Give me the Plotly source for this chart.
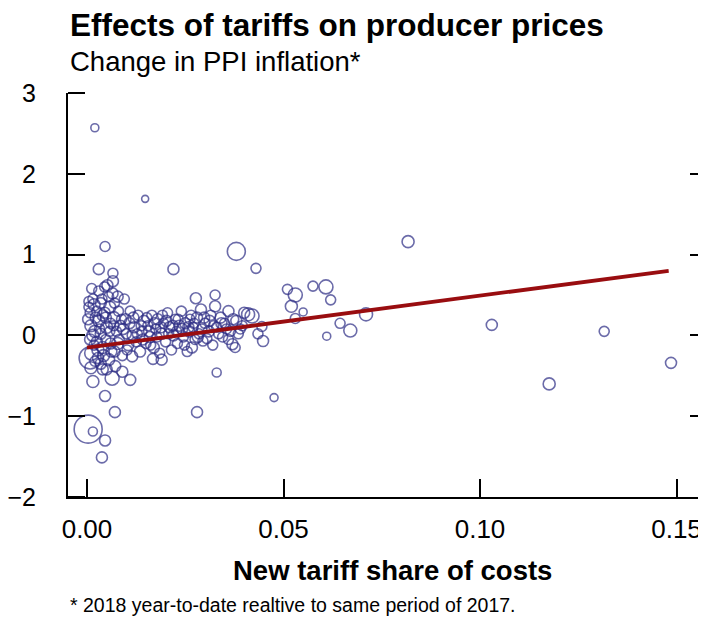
"""Effects of tariffs on producer prices (Plotly scatter + fitted line)"""
import plotly.graph_objects as go

# sparse / outlying industries
out_x = [0.0020, 0.0148, 0.0046, 0.0380, 0.0220, 0.0430, 0.0030, 0.0066, 0.0066, 0.0817,
         0.1030, 0.1316, 0.1486, 0.1176, 0.0476, 0.0280, 0.0071, 0.0003, 0.0015, 0.0046,
         0.0038, 0.0046, 0.0110, 0.0015, 0.0064, 0.0330, 0.0510, 0.0530, 0.0520, 0.0550,
         0.0530, 0.0575, 0.0608, 0.0620, 0.0644, 0.0670, 0.0610, 0.0710, 0.0420, 0.0445,
         0.0435, 0.0448, 0.0008, 0.0040, 0.0090, 0.0168, 0.0190, 0.0115, 0.0267, 0.0295,
         0.0377, 0.0277, 0.0326, 0.0326, 0.0410]
out_y = [2.57, 1.69, 1.10, 1.04, 0.82, 0.83, 0.82, 0.77, 0.67, 1.16,
         0.13, 0.05, -0.34, -0.60, -0.77, -0.95, -0.95, -1.16, -1.19, -1.30,
         -1.51, -0.75, -0.55, -0.57, -0.53, -0.46, 0.57, 0.50, 0.36, 0.29,
         0.21, 0.61, 0.60, 0.44, 0.15, 0.06, -0.01, 0.26, 0.24, 0.11,
         0.02, -0.07, -0.28, -0.42, -0.45, -0.29, -0.30, -0.26, -0.15, -0.07,
         -0.15, 0.46, 0.50, 0.36, 0.26]
out_w = [8, 7, 10, 18, 11, 10, 11, 10, 11, 12,
         11, 10, 11, 12, 8, 11, 11, 28, 9, 11,
         11, 11, 11, 12, 14, 9, 10, 14, 12, 8,
         10, 10, 14, 10, 10, 13, 8, 13, 14, 10,
         10, 11, 22, 11, 11, 11, 11, 11, 11, 10,
         10, 11, 10, 11, 13]

# dense cluster of low-exposure industries
core_x = [0.0005, 0.0010, 0.0008, 0.0012, 0.0005, 0.0015, 0.0020, 0.0018, 0.0022, 0.0010,
          0.0025, 0.0003, 0.0020, 0.0030, 0.0035, 0.0030, 0.0035, 0.0040, 0.0035, 0.0045,
          0.0045, 0.0050, 0.0048, 0.0042, 0.0050, 0.0055, 0.0058, 0.0060, 0.0060, 0.0055,
          0.0065, 0.0070, 0.0068, 0.0075, 0.0070, 0.0072, 0.0080, 0.0085, 0.0082, 0.0090,
          0.0095, 0.0098, 0.0100, 0.0105, 0.0110, 0.0120, 0.0125, 0.0130, 0.0135, 0.0140,
          0.0145, 0.0150, 0.0155, 0.0160, 0.0165, 0.0170, 0.0175, 0.0180, 0.0185, 0.0190,
          0.0195, 0.0200, 0.0205, 0.0210, 0.0215, 0.0220, 0.0225, 0.0230, 0.0235, 0.0240,
          0.0245, 0.0250, 0.0255, 0.0260, 0.0265, 0.0270, 0.0275, 0.0280, 0.0285, 0.0290,
          0.0300, 0.0310, 0.0315, 0.0320, 0.0330, 0.0340, 0.0345, 0.0350, 0.0360, 0.0365,
          0.0370, 0.0380, 0.0390, 0.0400, 0.0385, 0.0360, 0.0028, 0.0052, 0.0012, 0.0078,
          0.0015, 0.0025, 0.0032, 0.0040, 0.0008, 0.0018, 0.0028, 0.0038, 0.0048, 0.0058,
          0.0062, 0.0068, 0.0078, 0.0088, 0.0092, 0.0102, 0.0108, 0.0115, 0.0118, 0.0128,
          0.0138, 0.0142, 0.0152, 0.0158, 0.0162, 0.0172, 0.0178, 0.0188, 0.0192, 0.0202,
          0.0208, 0.0218, 0.0228, 0.0232, 0.0242, 0.0248, 0.0258, 0.0262, 0.0272, 0.0282,
          0.0292, 0.0298, 0.0305, 0.0312, 0.0322, 0.0335, 0.0342, 0.0355, 0.0372, 0.0395]
core_y = [0.35, 0.12, -0.05, -0.22, 0.42, 0.45, 0.05, -0.12, 0.22, -0.40,
          0.30, 0.20, -0.32, 0.55, 0.40, 0.18, 0.02, -0.15, -0.35, 0.60,
          0.28, 0.10, -0.05, -0.25, -0.42, 0.48, 0.35, 0.15, -0.10, -0.30,
          0.52, 0.40, 0.22, 0.05, -0.20, -0.38, 0.30, 0.12, -0.05, -0.25,
          0.45, 0.20, 0.02, -0.12, 0.30, 0.10, -0.08, 0.25, -0.20, 0.05,
          0.18, -0.10, 0.12, -0.02, 0.25, -0.15, 0.08, 0.20, -0.22, 0.02,
          0.15, -0.08, 0.28, 0.10, -0.18, 0.00, 0.20, -0.10, 0.12, 0.30,
          -0.02, 0.15, -0.20, 0.05, 0.25, 0.10, -0.05, 0.22, 0.02, 0.32,
          0.15, 0.05, 0.25, -0.12, 0.10, 0.22, -0.02, 0.15, 0.30, 0.05,
          -0.11, 0.18, 0.08, 0.28, 0.02, -0.05, -0.18, 0.62, 0.58, 0.48,
          0.00, -0.08, 0.08, 0.25, 0.28, 0.38, -0.28, 0.45, 0.22, 0.05,
          -0.20, 0.12, -0.10, 0.20, 0.08, -0.18, 0.15, 0.00, 0.22, 0.02,
          0.12, -0.05, 0.22, 0.05, -0.12, 0.15, -0.02, 0.10, 0.25, 0.18,
          0.02, 0.12, 0.05, 0.20, 0.08, -0.12, 0.10, 0.20, 0.15, -0.02,
          0.08, 0.22, -0.04, 0.18, 0.12, 0.02, 0.15, 0.08, 0.20, 0.12]
core_w = [10, 12, 11, 14, 10, 10, 12, 10, 11, 12,
          10, 11, 10, 10, 11, 12, 11, 12, 11, 10,
          11, 12, 10, 12, 11, 10, 12, 10, 11, 12,
          11, 10, 12, 10, 11, 11, 10, 11, 10, 10,
          10, 11, 10, 11, 10, 11, 10, 10, 11, 10,
          11, 10, 10, 11, 10, 11, 10, 11, 10, 11,
          10, 10, 10, 11, 10, 11, 10, 10, 11, 10,
          10, 11, 10, 11, 10, 10, 10, 11, 10, 11,
          10, 11, 10, 10, 10, 11, 10, 10, 11, 10,
          11, 11, 10, 11, 10, 10, 12, 11, 10, 11,
          12, 11, 10, 11, 10, 12, 11, 10, 11, 10,
          11, 10, 12, 10, 11, 10, 11, 10, 11, 10,
          10, 11, 10, 11, 10, 11, 10, 11, 10, 11,
          10, 11, 10, 10, 11, 10, 11, 10, 10, 11,
          10, 11, 10, 11, 10, 10, 11, 10, 11, 10]

# fitted line
fit_x = [0.0, 0.148]
fit_y = [-0.15, 0.80]

x_ticks = [0.0, 0.05, 0.10, 0.15]
y_ticks = [-2, -1, 0, 1, 2, 3]
y_labels = ["\u22122", "\u22121", "0", "1", "2", "3"]

tariff_share = out_x + core_x
ppi_change = out_y + core_y
weight = out_w + core_w

fig = go.Figure()
fig.add_trace(go.Scatter(x=tariff_share, y=ppi_change, mode="markers",
                         marker=dict(symbol="circle-open", size=weight, color="#2c2c85",
                                     line=dict(width=1.6)),
                         showlegend=False))
fig.add_trace(go.Scatter(x=fit_x, y=fit_y, mode="lines",
                         line=dict(color="#990d10", width=3.8), showlegend=False))
# empty trace so the tick-only helper axis gets drawn
fig.add_trace(go.Scatter(x=[None], y=[None], yaxis="y2", showlegend=False))

# page body adds an 8px offset, so the figure is 8px smaller than the window
font = "Liberation Sans, Arial, sans-serif"
fig.update_layout(
    width=698, height=609,
    margin=dict(l=60, r=0, t=85, b=120, autoexpand=False),
    paper_bgcolor="white", plot_bgcolor="white",
    font=dict(family=font, color="black"),
    xaxis=dict(range=[-0.00483, 0.1575], tickvals=x_ticks, tickformat=".2f",
               ticks="inside", ticklen=18, tickwidth=1.8, tickcolor="black",
               showline=True, linewidth=2, linecolor="black", automargin=False,
               showgrid=False, zeroline=False, tickfont=dict(size=26),
               ticklabelstandoff=8),
    yaxis=dict(range=[-2, 3], tickvals=y_ticks, ticktext=[t + "\u2002\u2002" for t in y_labels],
               mirror="ticks", ticks="inside", ticklen=16, tickwidth=1.8, tickcolor="black",
               showline=True, linewidth=2, linecolor="black", automargin=False,
               showgrid=False, zeroline=False, tickfont=dict(size=25)),
    # helper axis just right of the left edge: its outside ticks reach back to the axis line
    yaxis2=dict(range=[-2, 3], tickvals=y_ticks, overlaying="y", side="left",
                anchor="free", position=0.0266, ticks="outside", ticklen=17,
                tickwidth=1.8, tickcolor="black", showticklabels=False, showline=False,
                showgrid=False, zeroline=False, automargin=False),
)

fig.add_annotation(text="<b>Effects of tariffs on producer prices</b>", xref="paper", yref="paper",
                   x=0, y=1.168, xanchor="left", yanchor="middle", showarrow=False,
                   font=dict(size=31.5))
fig.add_annotation(text="Change in PPI inflation*", xref="paper", yref="paper",
                   x=0, y=1.077, xanchor="left", yanchor="middle", showarrow=False,
                   font=dict(size=27.5))
fig.add_annotation(text="<b>New tariff share of costs</b>", xref="paper", yref="paper",
                   x=0.508, y=-0.181, xanchor="center", yanchor="middle", showarrow=False,
                   font=dict(size=27.5))
fig.add_annotation(text="* 2018 year-to-date realtive to same period of 2017.", xref="paper",
                   yref="paper", x=0, y=-0.267, xanchor="left", yanchor="middle",
                   showarrow=False, font=dict(size=19.5))

fig.write_html("out.html")
